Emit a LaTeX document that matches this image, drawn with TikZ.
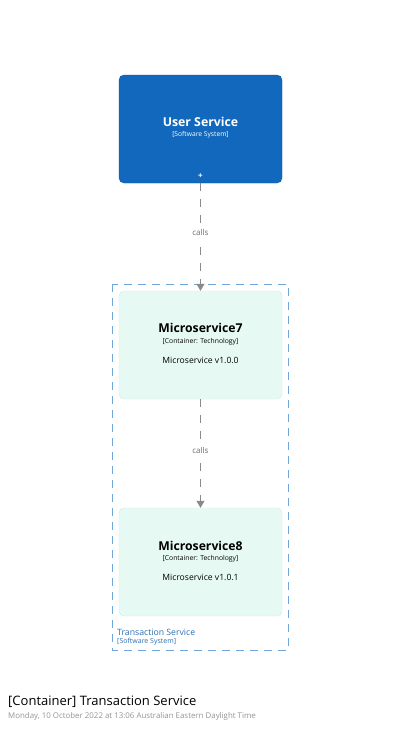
\documentclass[tikz,border=0pt]{standalone}
\usepackage{fontspec}
\setmainfont{Open Sans}
\usetikzlibrary{arrows.meta, positioning}

\definecolor{sysblue}{HTML}{1168BD}
\definecolor{contfill}{HTML}{E6FAF3}
\definecolor{contedge}{HTML}{CDEBDF}
\definecolor{bndblue}{HTML}{6FA6DC}
\definecolor{bndtext}{HTML}{2C6FB3}
\definecolor{relgray}{HTML}{8A8A8A}

\tikzset{
    sysbox/.style={rectangle, rounded corners=5pt, fill=sysblue, draw=sysblue!85!black,
        minimum width=163pt, minimum height=108pt, text=white, align=center},
    contbox/.style={rectangle, rounded corners=5pt, fill=contfill, draw=contedge,
        minimum width=163pt, minimum height=108pt, align=center},
    rel/.style={draw=relgray, line width=1pt, dash pattern=on 8pt off 8pt,
        -{Triangle[width=8pt, length=7pt]}},
    rellabel/.style={fill=white, text=relgray!80!black, font=\fontsize{8}{9}\selectfont, inner sep=3pt}
}

\begin{document}
\begin{tikzpicture}[x=1pt, y=-1pt]
    \useasboundingbox (0,0) rectangle (400,729);

    % boundary
    \draw[bndblue, line width=0.9pt, dash pattern=on 8pt off 6pt] (112,284) rectangle (288,650);
    \node[anchor=west, text=bndtext, font=\fontsize{8.7}{10}\selectfont, inner sep=0pt] (bname) at (117,632) {Transaction Service};
    \node[anchor=west, text=bndtext, font=\fontsize{7}{8}\selectfont, inner sep=0pt] (btype) at (117,642) {[Software System]};

    % elements
    \node[sysbox] (user) at (200.5,129) {};
    \node[text=white, font=\bfseries\fontsize{12.3}{14}\selectfont, inner sep=0pt] (usertitle) at (200.5,122) {User Service};
    \node[text=white, font=\fontsize{6.7}{8}\selectfont, inner sep=0pt] (usertype) at (200.5,135) {[Software System]};
    \node[text=white, font=\bfseries\fontsize{8}{8}\selectfont, inner sep=0pt] (userplus) at (200.5,176) {+};

    \node[contbox] (ms7) at (200.5,345) {};
    \node[font=\bfseries\fontsize{12.2}{14}\selectfont, inner sep=0pt] (ms7title) at (200.5,328) {Microservice7};
    \node[font=\fontsize{6.8}{8}\selectfont, inner sep=0pt] (ms7type) at (200.5,342) {[Container: Technology]};
    \node[font=\fontsize{8.6}{10}\selectfont, inner sep=0pt] (ms7desc) at (200.5,360) {Microservice v1.0.0};

    \node[contbox] (ms8) at (200.5,562) {};
    \node[font=\bfseries\fontsize{12.2}{14}\selectfont, inner sep=0pt] (ms8title) at (200.5,546) {Microservice8};
    \node[font=\fontsize{6.8}{8}\selectfont, inner sep=0pt] (ms8type) at (200.5,559) {[Container: Technology]};
    \node[font=\fontsize{8.6}{10}\selectfont, inner sep=0pt] (ms8desc) at (200.5,577) {Microservice v1.0.1};

    % relationships
    \draw[rel] (user) -- node[rellabel, pos=0.46] (calls1) {calls} (ms7);
    \draw[rel] (ms7) -- node[rellabel, pos=0.47] (calls2) {calls} (ms8);

    % title
    \node[anchor=west, font=\fontsize{13}{15}\selectfont, inner sep=0pt] (title) at (8,702) {[Container] Transaction Service};
    \node[anchor=west, text=black!42, font=\fontsize{7.9}{9}\selectfont, inner sep=0pt] (stamp) at (8,716) {Monday, 10 October 2022 at 13:06 Australian Eastern Daylight Time};
\end{tikzpicture}
\end{document}
